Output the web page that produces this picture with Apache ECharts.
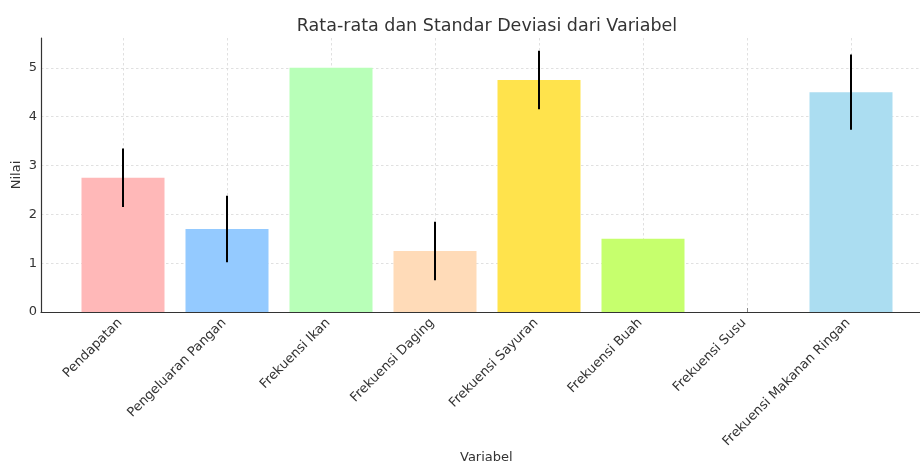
<!DOCTYPE html>
<html>
<head>
<meta charset="utf-8">
<script src="https://cdn.jsdelivr.net/npm/echarts@6/dist/echarts.min.js"></script>
<style>html,body{margin:0;padding:0;background:#fff;}#c{width:920px;height:464px;}</style>
</head>
<body>
<div id="c"></div>
<script>
const categories = ['Pendapatan','Pengeluaran Pangan','Frekuensi Ikan','Frekuensi Daging','Frekuensi Sayuran','Frekuensi Buah','Frekuensi Susu','Frekuensi Makanan Ringan'];
const means = [2.75, 1.70, 5.0, 1.25, 4.75, 1.5, 0, 4.5];
const stdDevs = [0.6, 0.68, 0, 0.6, 0.6, 0, 0, 0.77];
const barColors = ['#FFB8B8','#94CAFF','#B8FFB8','#FFDBB8','#FFE34C','#C6FF6D','#B0B0B0','#ABDDF1'];
const yTicks = [0,1,2,3,4,5];

const font = 'DejaVu Sans';
const chart = echarts.init(document.getElementById('c'));
const errData = means.map((m,i)=>[i, m - stdDevs[i], m + stdDevs[i], stdDevs[i]]);

chart.setOption({
  animation: false,
  backgroundColor: '#fff',
  title: {
    text: 'Rata-rata dan Standar Deviasi dari Variabel',
    left: 482, top: 12, textAlign: 'center',
    textStyle: {fontFamily: font, fontSize: 17.5, fontWeight: 'normal', color: '#333'}
  },
  graphic: [{
    type: 'text', left: 460, top: 451,
    style: {text: 'Variabel', font: '13px "DejaVu Sans"', fill: '#333'}
  }],
  grid: [
    {left: 41, right: 0, top: 38, bottom: 152, outerBoundsMode: 'none', containLabel: false},
    {left: 123, right: 69, top: 38, bottom: 152, outerBoundsMode: 'none', containLabel: false}
  ],
  xAxis: [
    {gridIndex: 0, type: 'value', min: 0, max: 1,
     axisLine: {show: true, lineStyle: {color: '#333', width: 1.2}},
     axisTick: {show: false}, axisLabel: {show: false}, splitLine: {show: false}},
    {gridIndex: 1, type: 'category', data: categories, boundaryGap: false,
     axisLine: {show: false},
     axisTick: {show: true, inside: true, length: 4, lineStyle: {color: '#888'}},
     axisLabel: {rotate: 45, margin: 6, padding: [0, 4, 0, 0], fontFamily: font, fontSize: 13, color: '#333', interval: 0},
     splitLine: {show: true, lineStyle: {color: '#d8d8d8', type: [2.5, 2.5], width: 0.8}}}
  ],
  yAxis: [
    {gridIndex: 0, type: 'value', min: 0, max: 5.61, interval: 1,
     name: 'Nilai', nameLocation: 'middle', nameGap: 18, nameMoveOverlap: false,
     nameTextStyle: {fontFamily: font, fontSize: 13, color: '#333'},
     axisLine: {show: true, lineStyle: {color: '#333', width: 1.2}},
     axisTick: {show: false},
     axisLabel: {fontFamily: font, fontSize: 13, color: '#333', margin: 4, customValues: yTicks},
     splitLine: {show: true, showMaxLine: false, showMinLine: false, lineStyle: {color: '#d8d8d8', type: [2.5, 2.5], width: 0.8}}},
    {gridIndex: 1, type: 'value', min: 0, max: 5.61, interval: 1, show: false,
     splitLine: {show: false}}
  ],
  series: [
    {type: 'bar', xAxisIndex: 1, yAxisIndex: 1, barWidth: 83, clip: false,
     data: means.map((v,i)=>({value: v, itemStyle: {color: barColors[i]}})),
     z: 2},
    {type: 'custom', xAxisIndex: 1, yAxisIndex: 1, data: errData, z: 5,
     renderItem: function(params, api){
       if (api.value(3) <= 0) return null;
       const p1 = api.coord([api.value(0), api.value(1)]);
       const p2 = api.coord([api.value(0), api.value(2)]);
       return {type: 'line', shape: {x1: p1[0], y1: p1[1], x2: p2[0], y2: p2[1]},
               style: {stroke: '#000', lineWidth: 2}};
     }}
  ]
});
</script>
</body>
</html>
